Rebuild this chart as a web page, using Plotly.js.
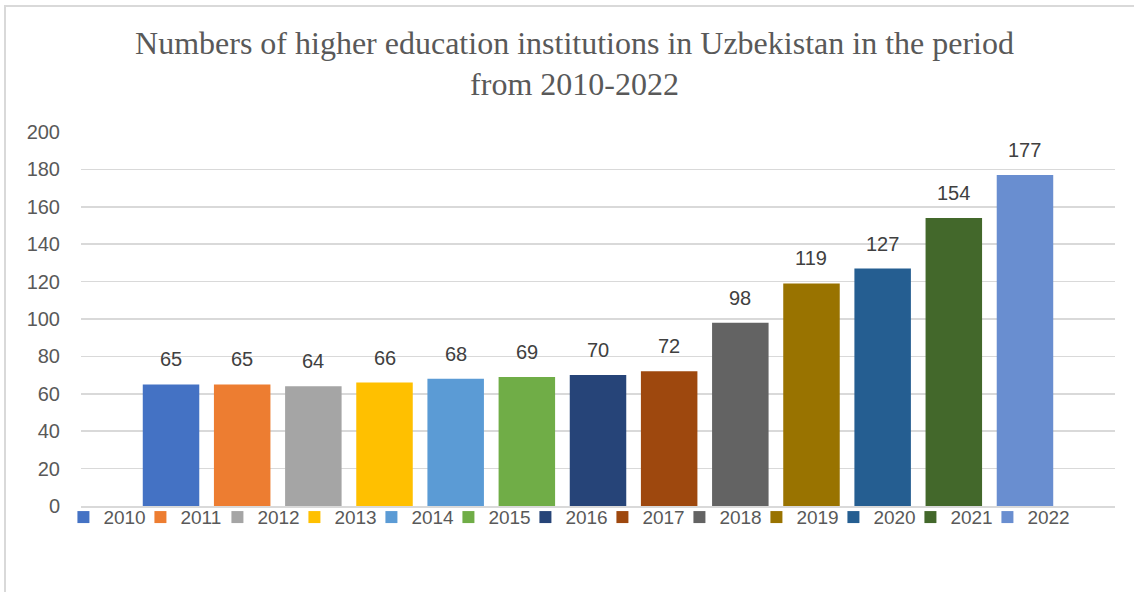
<!DOCTYPE html>
<html>
<head>
<meta charset="utf-8">
<script src="https://cdn.plot.ly/plotly-3.0.1.min.js"></script>
<style>
html,body{margin:0;padding:0;background:#fff;}
#frame{position:absolute;left:4px;top:5px;width:1200px;height:700px;border-left:2px solid #d9d9d9;border-top:2px solid #d9d9d9;pointer-events:none;}
#chart{position:absolute;left:0;top:0;width:1134px;height:592px;}
</style>
</head>
<body>
<div id="chart"></div>
<div id="frame"></div>
<script>
const years = [2010, 2011, 2012, 2013, 2014, 2015, 2016, 2017, 2018, 2019, 2020, 2021, 2022];
const institutions = [65, 65, 64, 66, 68, 69, 70, 72, 98, 119, 127, 154, 177];
const colors = ['#4472C4', '#ED7D31', '#A5A5A5', '#FFC000', '#5B9BD5', '#70AD47', '#264478',
                '#9E480E', '#636363', '#997300', '#255E91', '#43682B', '#698ED0'];
const yTicks = [0, 20, 40, 60, 80, 100, 120, 140, 160, 180, 200];
const titleText = 'Numbers of higher education institutions in Uzbekistan in the period<br>from 2010-2022';

const traces = years.map((yr, i) => ({
  type: 'bar',
  name: String(yr),
  x: [yr],
  y: [institutions[i]],
  width: 0.794,
  marker: {color: colors[i]},
  hoverinfo: 'name+y'
}));

const annotations = years.map((yr, i) => ({
  x: yr, y: institutions[i], xref: 'x', yref: 'y',
  text: String(institutions[i]), showarrow: false,
  yanchor: 'bottom', yshift: 12,
  font: {family: 'Liberation Sans, Arial, sans-serif', size: 20, color: '#404040'}
}));

const layout = {
  width: 1134, height: 592,
  margin: {l: 81, r: 19, t: 132, b: 86},
  paper_bgcolor: '#ffffff', plot_bgcolor: '#ffffff',
  barmode: 'overlay',
  title: {
    text: titleText,
    font: {family: 'Liberation Serif, Times New Roman, serif', size: 32, color: '#595959'},
    x: 574.5 / 1134, xanchor: 'center', xref: 'container',
    y: 0.909, yanchor: 'top'
  },
  xaxis: {
    range: [2008.735, 2023.265],
    showticklabels: false, showgrid: false, zeroline: false,
    showline: true, linecolor: '#d9d9d9', linewidth: 2,
    ticks: '', fixedrange: true
  },
  yaxis: {
    range: [0, 200],
    tickvals: yTicks,
    ticktext: yTicks.map(String),
    showgrid: true, gridcolor: '#d9d9d9', gridwidth: 1.5,
    zeroline: false, showline: false, ticks: '',
    ticklabelstandoff: 20,
    tickfont: {family: 'Liberation Sans, Arial, sans-serif', size: 20, color: '#595959'},
    fixedrange: true
  },
  showlegend: true,
  legend: {
    orientation: 'h',
    x: -0.017, xanchor: 'left',
    y: -0.03, yref: 'paper', yanchor: 'middle',
    font: {family: 'Liberation Sans, Arial, sans-serif', size: 19, color: '#595959'},
    itemwidth: 30,
    entrywidth: 32, entrywidthmode: 'pixels',
    traceorder: 'normal',
    bgcolor: 'rgba(0,0,0,0)'
  },
  annotations: annotations
};

Plotly.newPlot('chart', traces, layout, {displayModeBar: false, staticPlot: true}).then(() => {
  // let the last legend label overflow its fixed-width box instead of being clipped
  document.querySelectorAll('#chart .legend .scrollbox').forEach(el => el.removeAttribute('clip-path'));
});
</script>
</body>
</html>
